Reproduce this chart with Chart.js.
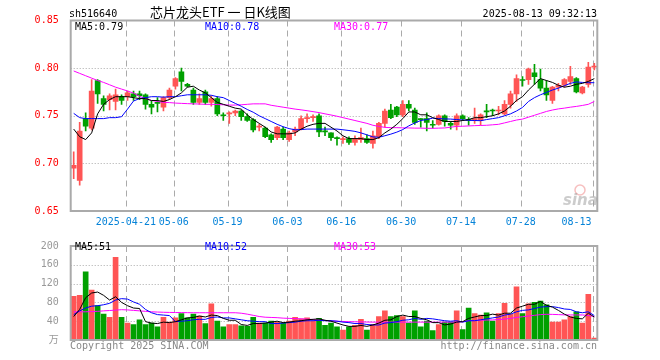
<!DOCTYPE html>
<html>
<head>
<meta charset="utf-8">
<script src="https://cdn.jsdelivr.net/npm/chart.js@4.4.1/dist/chart.umd.min.js"></script>
<style>
  body { margin: 0; background: #fff; }
  #wrap { position: relative; width: 660px; height: 360px; overflow: hidden; font-family: "DejaVu Sans Mono", monospace; font-size: 10px; }
  canvas { position: absolute; left: 0; }
  .t { position: absolute; white-space: pre; line-height: 12px; }
</style>
</head>
<body>
<div id="wrap">
  <canvas id="kline" width="660" height="236" style="top:0"></canvas>
  <canvas id="vol" width="660" height="124" style="top:236px"></canvas>
  <div class="t" style="left:69px;top:8px;color:#000">sh516640</div>
  <div class="t" style="left:150px;top:5px;font-family:'Noto Sans CJK SC';font-size:13px;line-height:14px;color:#000">芯片龙头ETF 一 日K线图</div>
  <div class="t" style="right:63px;top:8px;color:#000">2025-08-13 09:32:13</div>
  <div class="t" style="left:75px;top:21px;color:#000">MA5:0.79</div>
  <div class="t" style="left:205px;top:21px;color:#00f">MA10:0.78</div>
  <div class="t" style="left:334px;top:21px;color:#f0f">MA30:0.77</div>
  <div class="t" style="left:75px;top:241px;color:#000">MA5:51</div>
  <div class="t" style="left:205px;top:241px;color:#00f">MA10:52</div>
  <div class="t" style="left:334px;top:241px;color:#f0f">MA30:53</div>
  <div class="t" style="left:70px;top:340px;color:#888">Copyright 2025 SINA.COM</div>
  <div class="t" style="right:63px;top:340px;color:#888">http://finance.sina.com.cn</div>
</div>
<script>
// trading days
const dates = [
  '2025-04-08','2025-04-09','2025-04-10','2025-04-11','2025-04-14','2025-04-15','2025-04-16','2025-04-17','2025-04-18','2025-04-21',
  '2025-04-22','2025-04-23','2025-04-24','2025-04-25','2025-04-28','2025-04-29','2025-04-30','2025-05-06','2025-05-07','2025-05-08',
  '2025-05-09','2025-05-12','2025-05-13','2025-05-14','2025-05-15','2025-05-16','2025-05-19','2025-05-20','2025-05-21','2025-05-22',
  '2025-05-23','2025-05-26','2025-05-27','2025-05-28','2025-05-29','2025-05-30','2025-06-03','2025-06-04','2025-06-05','2025-06-06',
  '2025-06-09','2025-06-10','2025-06-11','2025-06-12','2025-06-13','2025-06-16','2025-06-17','2025-06-18','2025-06-19','2025-06-20',
  '2025-06-23','2025-06-24','2025-06-25','2025-06-26','2025-06-27','2025-06-30','2025-07-01','2025-07-02','2025-07-03','2025-07-04',
  '2025-07-07','2025-07-08','2025-07-09','2025-07-10','2025-07-11','2025-07-14','2025-07-15','2025-07-16','2025-07-17','2025-07-18',
  '2025-07-21','2025-07-22','2025-07-23','2025-07-24','2025-07-25','2025-07-28','2025-07-29','2025-07-30','2025-07-31','2025-08-01',
  '2025-08-04','2025-08-05','2025-08-06','2025-08-07','2025-08-08','2025-08-11','2025-08-12','2025-08-13'
]
// dates that get a label and a dashed line
const tickDates = ['2025-04-21','2025-05-06','2025-05-19','2025-06-03','2025-06-16','2025-06-30','2025-07-14','2025-07-28','2025-08-13']

const openP = [
  0.695,0.682,0.747,0.737,0.787,0.768,0.767,0.765,0.770,0.770,
  0.773,0.773,0.772,0.762,0.764,0.759,0.769,0.781,0.796,0.783,
  0.777,0.764,0.775,0.764,0.768,0.751,0.752,0.753,0.755,0.749,
  0.746,0.738,0.737,0.730,0.727,0.736,0.725,0.733,0.736,0.747,
  0.748,0.750,0.734,0.732,0.727,0.725,0.726,0.722,0.725,0.726,
  0.721,0.728,0.742,0.756,0.759,0.751,0.762,0.756,0.747,0.747,
  0.741,0.741,0.750,0.742,0.740,0.750,0.746,0.745,0.745,0.755,
  0.756,0.755,0.752,0.762,0.773,0.788,0.788,0.795,0.788,0.779,
  0.766,0.780,0.782,0.786,0.789,0.774,0.783,0.801
]
const closeP = [
  0.698,0.734,0.739,0.776,0.773,0.762,0.771,0.772,0.766,0.774,
  0.770,0.771,0.762,0.759,0.763,0.769,0.777,0.789,0.786,0.781,
  0.764,0.768,0.764,0.768,0.752,0.750,0.753,0.755,0.749,0.745,
  0.735,0.739,0.728,0.725,0.738,0.727,0.732,0.736,0.747,0.748,
  0.749,0.733,0.733,0.727,0.726,0.726,0.722,0.726,0.727,0.722,
  0.729,0.742,0.755,0.748,0.751,0.762,0.758,0.743,0.746,0.743,
  0.740,0.750,0.744,0.740,0.750,0.747,0.745,0.747,0.751,0.754,
  0.755,0.756,0.762,0.773,0.789,0.787,0.799,0.791,0.779,0.772,
  0.780,0.782,0.788,0.791,0.775,0.780,0.801,0.802
]
const highP = [
  0.712,0.743,0.753,0.788,0.788,0.771,0.773,0.778,0.772,0.776,
  0.776,0.776,0.773,0.766,0.769,0.770,0.779,0.790,0.800,0.784,
  0.779,0.773,0.777,0.771,0.770,0.753,0.754,0.756,0.756,0.752,
  0.747,0.741,0.738,0.731,0.739,0.738,0.734,0.738,0.750,0.752,
  0.751,0.752,0.738,0.732,0.728,0.728,0.728,0.729,0.737,0.730,
  0.734,0.743,0.757,0.762,0.760,0.766,0.766,0.758,0.747,0.753,
  0.745,0.751,0.751,0.744,0.752,0.751,0.748,0.758,0.752,0.762,
  0.757,0.760,0.766,0.776,0.793,0.791,0.800,0.804,0.799,0.787,
  0.781,0.784,0.789,0.802,0.790,0.781,0.806,0.805
]
const lowP = [
  0.684,0.677,0.734,0.735,0.763,0.755,0.756,0.756,0.762,0.766,
  0.766,0.767,0.757,0.752,0.754,0.755,0.767,0.778,0.776,0.780,
  0.762,0.762,0.762,0.760,0.750,0.745,0.742,0.750,0.745,0.744,
  0.733,0.734,0.727,0.722,0.725,0.725,0.723,0.729,0.735,0.743,
  0.744,0.728,0.729,0.724,0.719,0.721,0.720,0.719,0.722,0.721,
  0.716,0.726,0.738,0.747,0.749,0.749,0.755,0.741,0.738,0.734,
  0.737,0.740,0.739,0.736,0.735,0.745,0.740,0.742,0.740,0.748,
  0.750,0.751,0.751,0.758,0.765,0.781,0.783,0.783,0.776,0.766,
  0.763,0.776,0.780,0.783,0.774,0.773,0.780,0.798
]
const ma5 = [
  0.736,0.728,0.725,0.732,0.752,0.762,0.767,0.770,0.770,0.770,
  0.769,0.768,0.768,0.766,0.766,0.765,0.767,0.770,0.774,0.780,
  0.781,0.777,0.774,0.769,0.764,0.762,0.760,0.758,0.757,0.751,
  0.746,0.742,0.738,0.733,0.731,0.731,0.731,0.732,0.736,0.739,
  0.741,0.742,0.742,0.738,0.734,0.729,0.726,0.726,0.726,0.725,
  0.725,0.727,0.732,0.736,0.741,0.747,0.754,0.754,0.751,0.751,
  0.748,0.746,0.744,0.744,0.744,0.745,0.746,0.748,0.748,0.749,
  0.750,0.752,0.755,0.760,0.766,0.770,0.777,0.783,0.789,0.787,
  0.785,0.782,0.780,0.781,0.783,0.784,0.786,0.789
]
const ma10 = [
  0.7525,0.748,0.747,0.747,0.747,0.747,0.748,0.748,0.749,0.757,
  0.7655,0.768,0.769,0.770,0.770,0.7695,0.770,0.770,0.771,0.772,
  0.772,0.772,0.772,0.7715,0.770,0.769,0.766,0.763,0.760,0.7566,
  0.7537,0.750,0.747,0.744,0.741,0.7385,0.7365,0.7352,0.7355,0.736,
  0.736,0.736,0.736,0.736,0.736,0.7353,0.7345,0.7336,0.732,0.730,
  0.7278,0.7274,0.729,0.7307,0.7328,0.7355,0.7394,0.7425,0.745,0.746,
  0.7475,0.747,0.7467,0.7465,0.746,0.7456,0.7452,0.745,0.7448,0.746,
  0.747,0.748,0.750,0.752,0.755,0.7587,0.765,0.769,0.772,0.7745,
  0.777,0.779,0.7815,0.784,0.7855,0.785,0.7847,0.7847
]
const ma30 = [
  0.797,0.7945,0.792,0.7895,0.787,0.785,0.7825,0.780,0.778,0.776,
  0.7738,0.7705,0.768,0.766,0.765,0.764,0.7638,0.7633,0.763,0.7627,
  0.7625,0.7623,0.762,0.762,0.7618,0.7615,0.7612,0.7612,0.7615,0.762,
  0.7625,0.7625,0.7625,0.761,0.760,0.759,0.758,0.757,0.7562,0.7553,
  0.7543,0.7533,0.752,0.7508,0.7495,0.748,0.7465,0.745,0.7435,0.742,
  0.740,0.7388,0.7378,0.7375,0.7375,0.7373,0.7372,0.737,0.737,0.7368,
  0.7368,0.737,0.7372,0.738,0.7388,0.739,0.7393,0.7396,0.7398,0.740,
  0.7405,0.741,0.7425,0.744,0.7455,0.7465,0.7485,0.7505,0.7525,0.7545,
  0.756,0.7572,0.758,0.759,0.7598,0.7608,0.762,0.765
]
// volume in 万
const volume = [
  93,95,145,106,73,55,48,176,48,36,
  33,43,33,36,28,48,38,47,56,47,
  55,51,35,77,40,28,33,33,30,29,
  48,36,36,40,38,36,40,48,45,47,
  41,46,31,36,28,21,28,31,44,21,
  33,50,62,50,52,50,36,62,28,40,
  20,33,38,38,62,22,68,56,53,58,
  40,56,78,55,113,56,77,80,83,75,
  38,38,43,50,60,36,97,4
]
const volMa5 = [
  50,65,90,100,102,95,85,92,80,73,
  68,67,39,36,35,38,37,39,43,47,
  48,51,49,53,52,46,42,42,33,31,
  35,35,36,38,40,37,38,40,41,43,
  44,45,42,40,36,32,29,29,31,29,
  32,36,42,43,50,53,50,50,46,43,
  37,37,32,34,38,39,46,49,52,52,
  55,53,57,57,68,72,76,76,82,74,
  70,63,55,49,46,45,57,49
]
const volMa10 = [
  54,62,68,72,73,75,78,85,88,87,
  81,76,65,58,54,53,52,39,40,41,
  43,44,44,48,49,47,47,45,43,41,
  40,39,39,35,35,36,37,38,40,41,
  41,42,41,41,40,38,37,35,35,33,
  32,32,36,37,39,42,43,46,44,46,
  45,43,41,40,41,38,41,41,43,45,
  47,49,53,55,60,63,64,67,70,71,
  71,69,66,65,60,58,60,52
]
const volMa30 = [
  60,60,60,60.5,61,62,62.7,63.5,64.5,64,
  63,62,61,60,59.5,59,58.7,58.5,58.3,58.2,
  58,58,58,58,58,58,58,58,57,55,
  52.5,50,48.5,48,47.5,46.5,46,45.5,45,44.5,
  43.5,42.5,41.5,40.5,40,39.5,39,38.7,38.5,38.2,
  38,38,38,38,38,38,38,38,38,38,
  38,38,38,38,38,39,41,41.5,42,42.5,
  42.7,43.5,44.5,46,48,49.5,51,52.5,54,54.7,
  54.5,54,53.5,53.3,53.3,53.3,52,50
]

const UP = '#ff5555'
const DOWN = '#00a000'
const FONT = '"DejaVu Sans Mono", "Noto Sans CJK SC", monospace'
const PLOT_LEFT = 70.7
const PLOT_RIGHT_PAD = 62.7
const candleColors = openP.map((o, i) => closeP[i] >= o ? UP : DOWN)
const tickIdx = tickDates.map(d => dates.indexOf(d))

const maLine = (data, color) => ({
    type: 'line',
    data: data,
    borderColor: color,
    borderWidth: 1,
    pointRadius: 0,
    tension: 0,
    order: 0
})

// dotted rows, dashed date columns, gray frame
const gridPlugin = (showDates) => ({
    id: 'klgrid',
    beforeDatasetsDraw(chart) {
        const {ctx, chartArea: a, scales} = chart
        ctx.save()
        ctx.strokeStyle = '#aaa'
        ctx.lineWidth = 1
        ctx.setLineDash([1, 2])
        const ticks = scales.y.ticks
        ticks.forEach((t, k) => {
            if (k === 0 || k === ticks.length - 1) return
            const y = Math.round(scales.y.getPixelForValue(t.value)) + 0.5
            ctx.beginPath()
            ctx.moveTo(a.left, y)
            ctx.lineTo(a.right, y)
            ctx.stroke()
        })
        ctx.setLineDash([6, 4])
        tickIdx.forEach(i => {
            const x = Math.round(scales.x.getPixelForValue(i) - 1.7) + 0.5
            ctx.beginPath()
            ctx.moveTo(x, a.top)
            ctx.lineTo(x, a.bottom)
            ctx.stroke()
        })
        ctx.restore()
    },
    afterDraw(chart) {
        const {ctx, chartArea: a, scales} = chart
        ctx.save()
        ctx.strokeStyle = '#aaa'
        ctx.lineWidth = 2
        ctx.strokeRect(a.left, a.top, a.right - a.left, a.bottom - a.top)
        if (showDates) {
            ctx.font = '10px ' + FONT
            ctx.fillStyle = '#0683d8'
            ctx.textBaseline = 'middle'
            tickIdx.forEach((i, k) => {
                const x = scales.x.getPixelForValue(i) - 1.7
                const d = dates[i]
                const txt = k === 0 ? d : d.slice(5)
                ctx.textAlign = k === tickIdx.length - 1 ? 'right' : 'center'
                ctx.fillText(txt, k === tickIdx.length - 1 ? x - 1 : x, a.bottom + 11)
            })
            // sina watermark
            ctx.globalAlpha = 0.5
            ctx.strokeStyle = '#f08080'
            ctx.lineWidth = 1.5
            ctx.beginPath()
            ctx.arc(580, 190, 5, 0, Math.PI * 2)
            ctx.stroke()
            ctx.fillStyle = '#999'
            ctx.font = 'italic bold 15px "DejaVu Sans"'
            ctx.textAlign = 'left'
            ctx.textBaseline = 'alphabetic'
            ctx.fillText('sina', 563, 205)
        }
        ctx.restore()
    }
})

const baseOptions = (yOpts, padTop, padBottom) => ({
    responsive: false,
    animation: false,
    devicePixelRatio: 1,
    layout: { padding: { left: 0, right: PLOT_RIGHT_PAD, top: padTop, bottom: padBottom } },
    plugins: { legend: { display: false }, tooltip: { enabled: false } },
    scales: {
        x: { display: false, offset: true },
        y: Object.assign({
            afterFit: (s) => { s.width = PLOT_LEFT },
            grid: { display: false },
            border: { display: false }
        }, yOpts)
    }
})

new Chart(document.getElementById('kline'), {
    type: 'bar',
    data: {
        labels: dates,
        datasets: [
            maLine(ma5, '#000'),
            maLine(ma10, '#00f'),
            maLine(ma30, '#f0f'),
            {
                data: lowP.map((l, i) => [l, highP[i]]),
                backgroundColor: candleColors,
                barThickness: 1,
                grouped: false,
                order: 2
            },
            {
                data: openP.map((o, i) => [o, closeP[i]]),
                backgroundColor: candleColors,
                barThickness: 5,
                minBarLength: 1,
                grouped: false,
                order: 1
            }
        ]
    },
    options: baseOptions({
        min: 0.65,
        max: 0.85,
        ticks: {
            stepSize: 0.05,
            color: '#f00',
            padding: 4,
            font: { family: FONT, size: 10 },
            callback: v => v.toFixed(2)
        }
    }, 20.5, 25),
    plugins: [gridPlugin(true)]
})

new Chart(document.getElementById('vol'), {
    type: 'bar',
    data: {
        labels: dates,
        datasets: [
            maLine(volMa5, '#000'),
            maLine(volMa10, '#00f'),
            maLine(volMa30, '#f0f'),
            {
                data: volume,
                backgroundColor: candleColors,
                barThickness: 5,
                grouped: false,
                order: 1
            }
        ]
    },
    options: baseOptions({
        min: 0,
        max: 200,
        ticks: {
            stepSize: 40,
            color: '#999',
            padding: 4,
            font: { family: FONT, size: 10 },
            callback: v => v === 0 ? '万' : v
        }
    }, 4, 20),
    plugins: [gridPlugin(false)]
})
</script>
</body>
</html>
